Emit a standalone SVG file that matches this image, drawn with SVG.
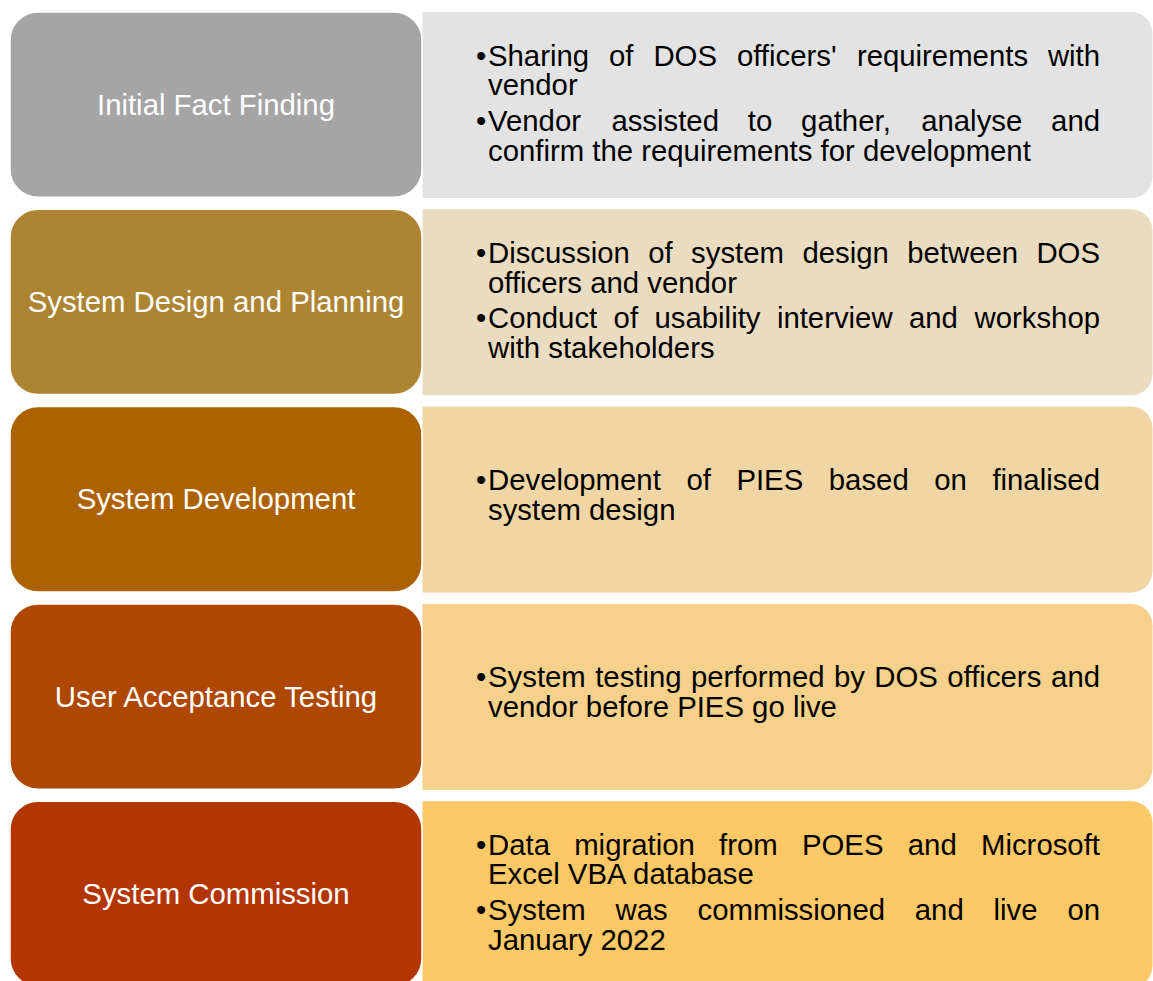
<svg xmlns="http://www.w3.org/2000/svg" width="1153" height="981" viewBox="0 0 1153 981">
  <style>
    .stage { stroke: #ffffff; stroke-width: 1.5; }
    .detail { stroke: #ffffff; stroke-width: 1; }
    .label { font-family: "Liberation Sans", Arial, sans-serif; font-size: 29.33px; fill: #ffffff; text-anchor: middle; }
    .body { font-family: "Liberation Sans", Arial, sans-serif; font-size: 29.33px; fill: #000000; }
  </style>
  <rect x="0" y="0" width="1153" height="981" fill="#ffffff"/>

  <!-- Stage 1 -->
  <g id="stage-initial-fact-finding">
    <path class="detail" fill="#E3E3E3" d="M422,11.5 H1131 A22,22 0 0 1 1153,33.5 V176.5 A22,22 0 0 1 1131,198.5 H422 Z"/>
    <rect class="stage" x="10" y="12" width="412" height="185.3" rx="28" ry="28" fill="#A5A5A5"/>
    <text class="label" x="216" y="114.6">Initial Fact Finding</text>
    <text class="body">
      <tspan x="476" y="65.7">•</tspan><tspan x="488" y="65.7">Sharing</tspan><tspan x="609" y="65.7">of</tspan><tspan x="653.4" y="65.7">DOS</tspan><tspan x="736.9" y="65.7">officers'</tspan><tspan x="856.9" y="65.7">requirements</tspan><tspan x="1047.9" y="65.7">with</tspan>
      <tspan x="488" y="95.2">vendor</tspan>
      <tspan x="476" y="130.7">•</tspan><tspan x="488" y="130.7">Vendor</tspan><tspan x="611.4" y="130.7">assisted</tspan><tspan x="747.8" y="130.7">to</tspan><tspan x="801.1" y="130.7">gather,</tspan><tspan x="921.2" y="130.7">analyse</tspan><tspan x="1051.1" y="130.7">and</tspan>
      <tspan x="488" y="160.5">confirm the requirements for development</tspan>
    </text>
  </g>

  <!-- Stage 2 -->
  <g id="stage-system-design">
    <path class="detail" fill="#EADCC1" d="M422,208.8 H1131 A22,22 0 0 1 1153,230.8 V373.8 A22,22 0 0 1 1131,395.8 H422 Z"/>
    <rect class="stage" x="10" y="209.3" width="412" height="185.3" rx="28" ry="28" fill="#AD8432"/>
    <text class="label" x="216" y="311.9">System Design and Planning</text>
    <text class="body">
      <tspan x="476" y="263">•</tspan><tspan x="488" y="263">Discussion</tspan><tspan x="648.2" y="263">of</tspan><tspan x="691.1" y="263">system</tspan><tspan x="802.4" y="263">design</tspan><tspan x="907.2" y="263">between</tspan><tspan x="1036.4" y="263">DOS</tspan>
      <tspan x="488" y="292.5">officers and vendor</tspan>
      <tspan x="476" y="328">•</tspan><tspan x="488" y="328">Conduct</tspan><tspan x="613.6" y="328">of</tspan><tspan x="654.5" y="328">usability</tspan><tspan x="776.9" y="328">interview</tspan><tspan x="909" y="328">and</tspan><tspan x="974.5" y="328">workshop</tspan>
      <tspan x="488" y="357.8">with stakeholders</tspan>
    </text>
  </g>

  <!-- Stage 3 -->
  <g id="stage-system-development">
    <path class="detail" fill="#F0D6A4" d="M422,406.1 H1131 A22,22 0 0 1 1153,428.1 V571.1 A22,22 0 0 1 1131,593.1 H422 Z"/>
    <rect class="stage" x="10" y="406.6" width="412" height="185.3" rx="28" ry="28" fill="#AC6200"/>
    <text class="label" x="216" y="509.2">System Development</text>
    <text class="body">
      <tspan x="476" y="489.6">•</tspan><tspan x="488" y="489.6">Development</tspan><tspan x="686.4" y="489.6">of</tspan><tspan x="736.4" y="489.6">PIES</tspan><tspan x="828.8" y="489.6">based</tspan><tspan x="934.3" y="489.6">on</tspan><tspan x="992.4" y="489.6">finalised</tspan>
      <tspan x="488" y="519.6">system design</tspan>
    </text>
  </g>

  <!-- Stage 4 -->
  <g id="stage-user-acceptance-testing">
    <path class="detail" fill="#F6D18B" d="M422,603.4 H1131 A22,22 0 0 1 1153,625.4 V768.4 A22,22 0 0 1 1131,790.4 H422 Z"/>
    <rect class="stage" x="10" y="603.9" width="412" height="185.3" rx="28" ry="28" fill="#AE4700"/>
    <text class="label" x="216" y="706.5">User Acceptance Testing</text>
    <text class="body">
      <tspan x="476" y="686.9">•</tspan><tspan x="488" y="686.9">System</tspan><tspan x="595.2" y="686.9">testing</tspan><tspan x="691" y="686.9">performed</tspan><tspan x="834" y="686.9">by</tspan><tspan x="874.3" y="686.9">DOS</tspan><tspan x="947.3" y="686.9">officers</tspan><tspan x="1051.1" y="686.9">and</tspan>
      <tspan x="488" y="716.9">vendor before PIES go live</tspan>
    </text>
  </g>

  <!-- Stage 5 -->
  <g id="stage-system-commission">
    <path class="detail" fill="#FDC866" d="M422,800.7 H1131 A22,22 0 0 1 1153,822.7 V965.7 A22,22 0 0 1 1131,987.7 H422 Z"/>
    <rect class="stage" x="10" y="801.2" width="412" height="185.3" rx="28" ry="28" fill="#B33500"/>
    <text class="label" x="216" y="903.8">System Commission</text>
    <text class="body">
      <tspan x="476" y="854.9">•</tspan><tspan x="488" y="854.9">Data</tspan><tspan x="574.2" y="854.9">migration</tspan><tspan x="719.1" y="854.9">from</tspan><tspan x="802" y="854.9">POES</tspan><tspan x="907.8" y="854.9">and</tspan><tspan x="981" y="854.9">Microsoft</tspan>
      <tspan x="488" y="884.4">Excel VBA database</tspan>
      <tspan x="476" y="919.9">•</tspan><tspan x="488" y="919.9">System</tspan><tspan x="615.6" y="919.9">was</tspan><tspan x="697.6" y="919.9">commissioned</tspan><tspan x="914.8" y="919.9">and</tspan><tspan x="993.5" y="919.9">live</tspan><tspan x="1067.4" y="919.9">on</tspan>
      <tspan x="488" y="949.7">January 2022</tspan>
    </text>
  </g>

  <!-- no connectors between stages -->
  <g id="connectors"/>
</svg>
